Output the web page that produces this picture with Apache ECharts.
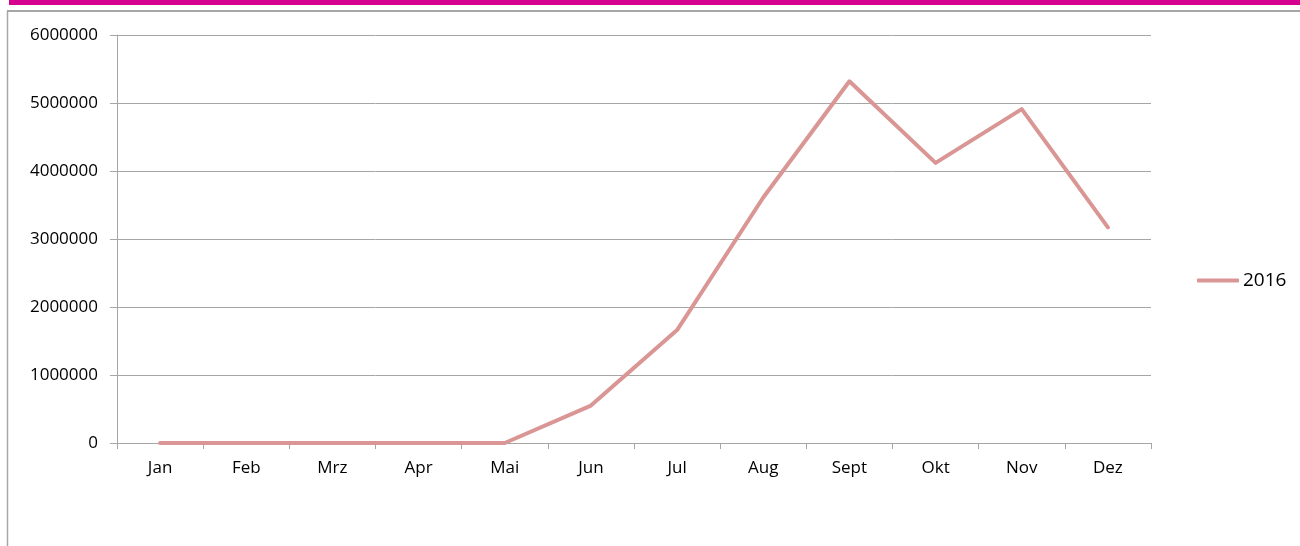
<!DOCTYPE html>
<html>
<head>
<meta charset="utf-8">
<script src="https://cdn.jsdelivr.net/npm/echarts@6/dist/echarts.min.js"></script>
<style>
html,body{margin:0;padding:0;background:#fff;}
#chart{width:1300px;height:546px;}
</style>
</head>
<body>
<div id="chart"></div>
<script>
const categories = ['Jan','Feb','Mrz','Apr','Mai','Jun','Jul','Aug','Sept','Okt','Nov','Dez'];
const seriesName = '2016';
const values2016 = [0, 0, 0, 0, 0, 550000, 1660000, 3610000, 5320000, 4120000, 4910000, 3170000];
const yTicks = [0, 1000000, 2000000, 3000000, 4000000, 5000000, 6000000];

const chart = echarts.init(document.getElementById('chart'), null, {renderer:'canvas'});
const font = 'Open Sans';
chart.setOption({
  animation: false,
  backgroundColor: '#ffffff',
  graphic: [
    {type:'rect', shape:{x:9, y:0, width:1291, height:5}, style:{fill:'#D6008F'}, z:10},
    {type:'line', shape:{x1:7, y1:11, x2:1300, y2:11}, style:{stroke:'#A6A6A6', lineWidth:2}, z:10},
    {type:'line', shape:{x1:7.5, y1:11, x2:7.5, y2:546}, style:{stroke:'#A6A6A6', lineWidth:1.5}, z:10}
  ],
  grid: {left:117, right:149, top:35, bottom:103, containLabel:false},
  legend: {
    data:[seriesName],
    orient:'vertical',
    left:1197,
    top:271,
    icon:'roundRect',
    itemWidth:42,
    itemHeight:4,
    itemGap:10,
    textStyle:{fontFamily:font, fontSize:19, color:'#000', padding:[0,0,0,-1]},
    padding:0
  },
  xAxis: {
    type:'category',
    data:categories,
    boundaryGap:true,
    axisLine:{show:true, lineStyle:{color:'#A6A6A6', width:1}},
    axisTick:{show:true, length:6, lineStyle:{color:'#A6A6A6'}},
    axisLabel:{fontFamily:font, fontSize:17, color:'#000', margin:17},
    splitLine:{show:false}
  },
  yAxis: {
    type:'value',
    min:yTicks[0],
    max:yTicks[yTicks.length-1],
    interval:yTicks[1]-yTicks[0],
    axisLine:{show:true, lineStyle:{color:'#A6A6A6', width:1}},
    axisTick:{show:true, length:7, lineStyle:{color:'#A6A6A6'}},
    axisLabel:{fontFamily:font, fontSize:17, color:'#000', margin:19, formatter:function(v){return String(v);}},
    splitLine:{show:true, lineStyle:{color:'#A6A6A6', width:1}}
  },
  series: [{
    name:seriesName,
    type:'line',
    data:values2016,
    symbol:'none',
    showSymbol:false,
    lineStyle:{color:'#D99694', width:4, cap:'round', join:'round'},
    itemStyle:{color:'#D99694'},
    z:5
  }]
});
</script>
</body>
</html>
